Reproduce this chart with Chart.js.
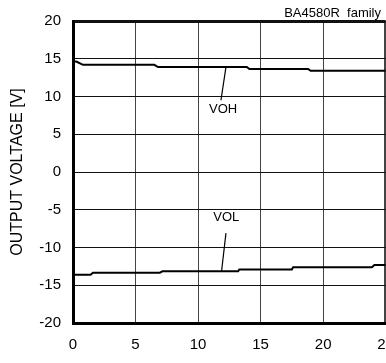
<!DOCTYPE html>
<html>
<head>
<meta charset="utf-8">
<script src="https://cdn.jsdelivr.net/npm/chart.js@4/dist/chart.umd.min.js"></script>
<style>
  html, body { margin: 0; padding: 0; background: #fff; overflow: hidden; }
  #box { width: 407px; height: 363px; }
</style>
</head>
<body>
<div id="box"><canvas id="grafico"></canvas></div>
<script>
// valori
const xVoh = [0, 0.3, 0.8, 6.5, 6.8, 13.9, 14.1, 18.8, 19.0, 25];
const yVoh = [14.7, 14.6, 14.2, 14.2, 13.9, 13.9, 13.65, 13.65, 13.4, 13.4];
const xVol = [0, 1.4, 1.6, 6.95, 7.15, 13.2, 13.3, 17.5, 17.6, 23.9, 24.1, 25];
const yVol = [-13.6, -13.6, -13.33, -13.33, -13.15, -13.15, -12.9, -12.9, -12.62, -12.62, -12.32, -12.32];

// linee di richiamo delle etichette
const leaderVoh = [{x: 12.23, y: 13.9}, {x: 11.83, y: 9.5}];
const leaderVol = [{x: 12.23, y: -8.1}, {x: 11.88, y: -13.15}];

const etichette = ['VOH', 'VOL'];
const posEtichette = [{x: 12.0, y: 8.3}, {x: 12.26, y: -5.95}];

const xTicks = [0, 5, 10, 15, 20, 25];
const yTicks = [-20, -15, -10, -5, 0, 5, 10, 15, 20];
const titolo = 'BA4580R  family';
const titoloAsseY = 'OUTPUT VOLTAGE [V]';

function punti(xs, ys) {
    return xs.map((x, i) => ({x: x, y: ys[i]}));
}

// plugin per le scritte dentro il grafico
const scritte = {
    id: 'scritte',
    afterDatasetsDraw: function (chart) {
        const ctx = chart.ctx;
        const sx = chart.scales.x, sy = chart.scales.y;
        ctx.save();
        ctx.fillStyle = '#000';
        ctx.font = '13px "Liberation Sans", Arial, sans-serif';
        ctx.textAlign = 'center';
        ctx.textBaseline = 'middle';
        etichette.forEach(function (t, i) {
            ctx.fillText(t, sx.getPixelForValue(posEtichette[i].x), sy.getPixelForValue(posEtichette[i].y));
        });
        ctx.textAlign = 'right';
        ctx.fillText(titolo, 381, 13);
        ctx.restore();
    }
};

const font = '"Liberation Sans", Arial, sans-serif';

new Chart(document.getElementById('grafico').getContext('2d'), {
    type: 'line',
    data: {
        datasets: [
            {data: punti(xVoh, yVoh), borderColor: '#000', borderWidth: 2, pointRadius: 0, tension: 0},
            {data: punti(xVol, yVol), borderColor: '#000', borderWidth: 2, pointRadius: 0, tension: 0},
            {data: leaderVoh, borderColor: '#000', borderWidth: 1.2, pointRadius: 0},
            {data: leaderVol, borderColor: '#000', borderWidth: 1.2, pointRadius: 0}
        ]
    },
    options: {
        responsive: true,
        maintainAspectRatio: false,
        animation: false,
        layout: {padding: {top: 21, left: 0, right: 0, bottom: 0}, autoPadding: false},
        plugins: {
            legend: {display: false},
            tooltip: {enabled: false}
        },
        scales: {
            x: {
                type: 'linear',
                min: 0, max: 25,
                afterBuildTicks: function (s) { s.ticks = xTicks.map(v => ({value: v})); },
                afterFit: function (s) { s.height = 40; },
                ticks: {color: '#000', font: {family: font, size: 15}, padding: 13, maxRotation: 0},
                grid: {
                    color: '#444',
                    lineWidth: c => (c.tick && c.tick.value === 25 ? 3 : 1),
                    drawTicks: false
                },
                border: {color: '#000', width: 3}
            },
            y: {
                min: -20, max: 20,
                afterBuildTicks: function (s) { s.ticks = yTicks.map(v => ({value: v})); },
                afterFit: function (s) { s.width = 73; },
                ticks: {color: '#000', font: {family: font, size: 15}, padding: 12},
                grid: {
                    color: '#111',
                    lineWidth: c => (c.tick && c.tick.value === 20 ? 3 : 1),
                    drawTicks: false
                },
                border: {color: '#000', width: 3},
                title: {
                    display: true,
                    text: titoloAsseY,
                    color: '#000',
                    font: {family: font, size: 16},
                    padding: {top: 8, bottom: 0}
                }
            }
        }
    },
    plugins: [scritte]
});
</script>
</body>
</html>
